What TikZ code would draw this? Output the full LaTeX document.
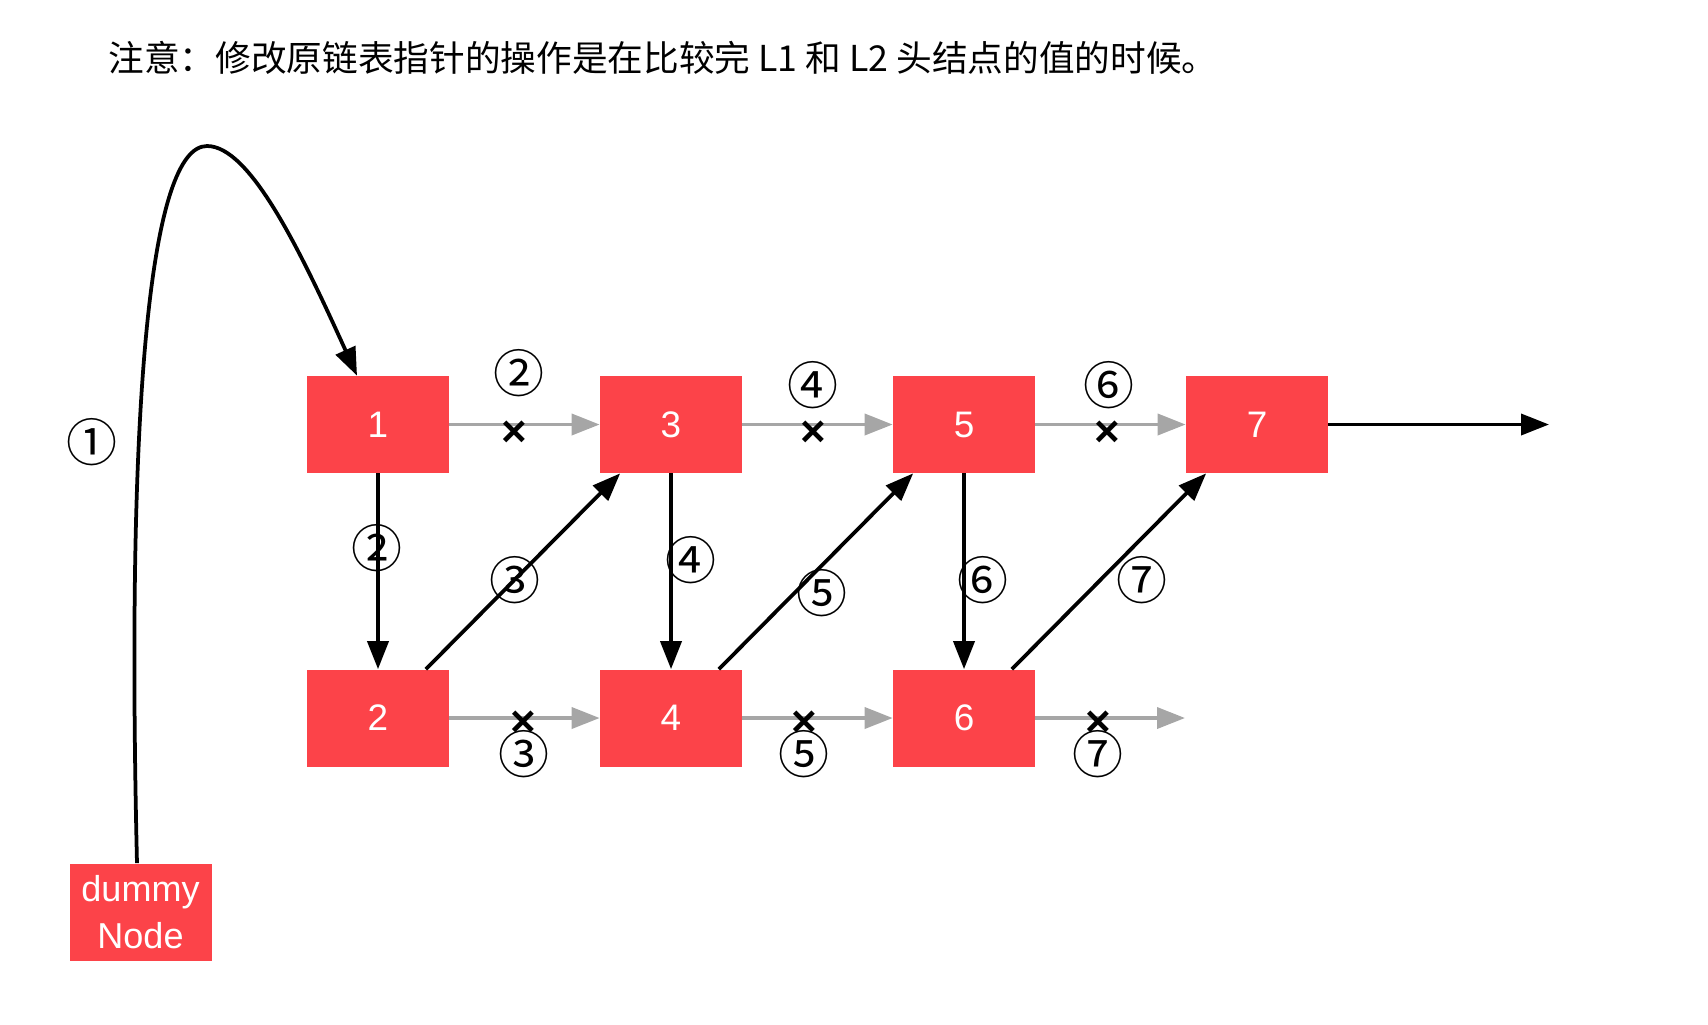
\documentclass[tikz,border=0pt]{standalone}
\usepackage{fontspec}
\setmainfont{Liberation Sans}
\newfontfamily\cjk{Noto Sans CJK SC}
\usetikzlibrary{arrows.meta}
\definecolor{listred}{HTML}{FC4349}
\definecolor{oldgray}{HTML}{A6A6A6}

\begin{document}
\begin{tikzpicture}[
  lnode/.style={fill=listred, text=white, minimum width=2.84cm, minimum height=1.94cm, inner sep=0, font=\fontsize{21}{25}\selectfont},
  nxt/.style={line width=0.075cm, -{Triangle[length=0.56cm,width=0.42cm]}},
  old/.style={nxt, oldgray},
  stepno/.style={font=\cjk\fontsize{29}{29}\selectfont, inner sep=0},
  cut/.style={font=\bfseries\fontsize{25}{25}\selectfont, text=black, inner sep=0}
]
\useasboundingbox (0,0) rectangle (34.16,-20.48);
% note on top
\node[anchor=west, inner sep=0, font=\cjk\fontsize{20.3}{24}\selectfont] (title) at (2.16,-1.15)
  {注意：修改原链表指针的操作是在比较完 L1 和 L2 头结点的值的时候。};

% list nodes: L1 on top row, L2 below
\foreach \v/\c/\r in {1/0/0,3/1/0,5/2/0,7/3/0,2/0/1,4/1/1,6/2/1}{
  \node[lnode] (n\v) at (7.56+\c*5.86,-8.49-\r*5.87) {\v};
}
\node[lnode, align=center, font=\fontsize{20.5}{26.7}\selectfont] (dummy) at (2.81,-18.24) {dummy\\Node};
\coordinate (peak) at (4.14,-2.92);
\coordinate (tail7) at (30.98,-8.49);
\coordinate (tail6) at (23.70,-14.36);

% old next pointers, cut
\draw[old] (n1) -- (n3) node[cut, pos=0.43, yshift=-0.18cm] {×};
\draw[old] (n3) -- (n5) node[cut, pos=0.47, yshift=-0.18cm] {×};
\draw[old] (n5) -- (n7) node[cut, pos=0.48, yshift=-0.18cm] {×};
\draw[old] (n2) -- (n4) node[cut, pos=0.49, yshift=-0.12cm] {×};
\draw[old] (n4) -- (n6) node[cut, pos=0.41, yshift=-0.12cm] {×};
\draw[old] (n6) -- (tail6) node[cut, pos=0.42, yshift=-0.12cm] {×};

% new pointers
\draw[nxt] ([xshift=-0.07cm]dummy.north) .. controls (2.52,-8.0) and (3.0,-2.92) .. (peak)
  .. controls (5.0,-2.92) and (6.0,-5.0) .. ([xshift=-0.42cm]n1.north);
\draw[nxt] (n1) -- (n2);
\draw[nxt] ([xshift=-0.47cm]n2.north east) -- ([xshift=0.41cm]n3.south west);
\draw[nxt] (n3) -- (n4);
\draw[nxt] ([xshift=-0.47cm]n4.north east) -- ([xshift=0.41cm]n5.south west);
\draw[nxt] (n5) -- (n6);
\draw[nxt] ([xshift=-0.47cm]n6.north east) -- ([xshift=0.41cm]n7.south west);
\draw[nxt] (n7) -- (tail7);

% step numbers
\node[stepno] (s1) at (1.83,-8.84) {①};
\node[stepno] (s2a) at (10.37,-7.47) {②};
\node[stepno] (s2b) at (7.54,-10.96) {②};
\node[stepno] (s3a) at (10.30,-11.61) {③};
\node[stepno] (s3b) at (10.48,-15.08) {③};
\node[stepno] (s4a) at (16.25,-7.71) {④};
\node[stepno] (s4b) at (13.81,-11.20) {④};
\node[stepno] (s5a) at (16.44,-11.87) {⑤};
\node[stepno] (s5b) at (16.08,-15.08) {⑤};
\node[stepno] (s6a) at (22.18,-7.71) {⑥};
\node[stepno] (s6b) at (19.65,-11.61) {⑥};
\node[stepno] (s7a) at (22.83,-11.61) {⑦};
\node[stepno] (s7b) at (21.96,-15.08) {⑦};
\end{tikzpicture}
\end{document}
